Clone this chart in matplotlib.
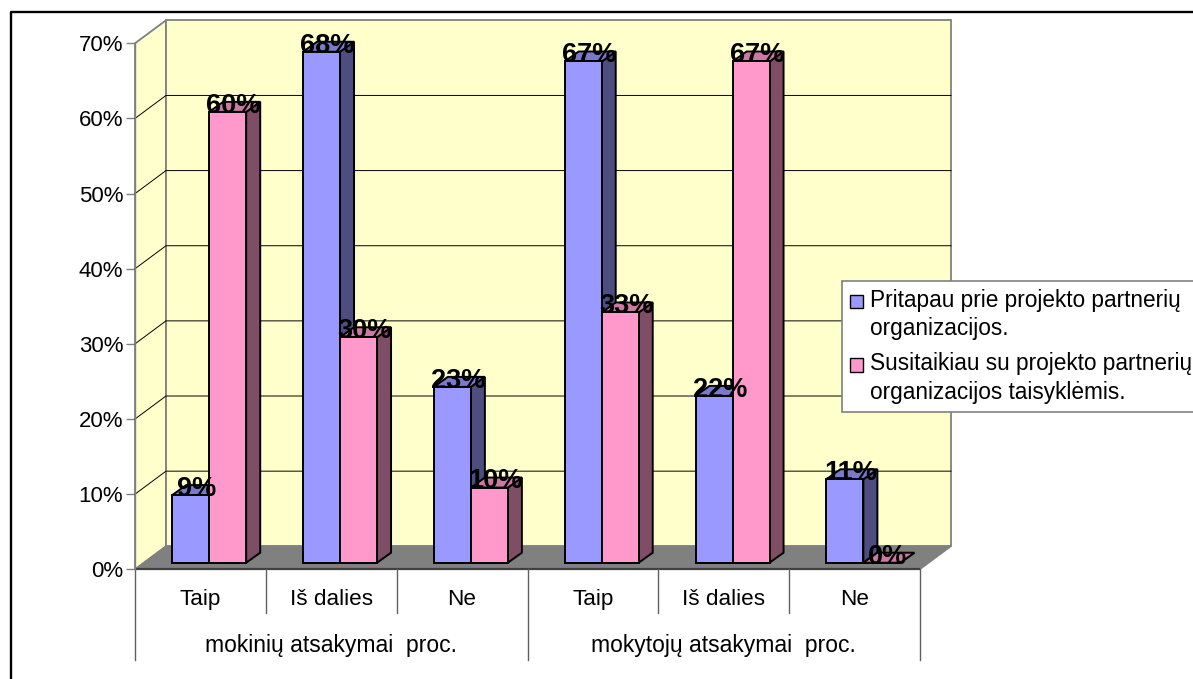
import matplotlib
matplotlib.use('Agg')
import matplotlib.pyplot as plt
from matplotlib.patches import Polygon, Patch

plt.rcParams['font.family'] = ['Liberation Sans', 'DejaVu Sans']

# Values (labels show them rounded)
categories = ['Taip', 'Iš dalies', 'Ne', 'Taip', 'Iš dalies', 'Ne']
groups = ['mokinių atsakymai  proc.', 'mokytojų atsakymai  proc.']
series_names = ['Pritapau prie projekto partnerių\norganizacijos.',
                'Susitaikiau su projekto partnerių\norganizacijos taisyklėmis.']
pritapau = [9, 68, 23.4, 66.7, 22.2, 11.1]
susitaikiau = [60, 30, 10, 33.3, 66.7, 0]
y_ticks = [0, 10, 20, 30, 40, 50, 60, 70]

W, H = 1193, 679
fig = plt.figure(figsize=(W / 100, H / 100), dpi=100)
left, right, top, floor = 135, 920, 43.3, 569.3
ax = fig.add_axes([left / W, (H - floor) / H, (right - left) / W, (floor - top) / H])
ax.set_xlim(0, 6)
ax.set_ylim(0, 70)
for s in ax.spines.values():
    s.set_visible(False)
ax.patch.set_visible(False)

# pixel sizes in data units
px = 6 / (right - left)
py = 70 / (floor - top)
wall_dx, wall_dy = 31 * px, 23 * py
bar_dx, bar_dy = 8.8 * px, 6.6 * py
depth_dx, depth_dy = 14 * px, 10 * py
bar_w = 37 * px


def poly(pts, fc, ec, lw=1.0, z=1):
    ax.add_patch(Polygon(pts, closed=True, facecolor=fc, edgecolor=ec, linewidth=lw,
                         zorder=z, clip_on=False, joinstyle='miter'))


# walls and floor
poly([(0, 0), (0, 70), (wall_dx, 70 + wall_dy), (wall_dx, wall_dy)], '#FFFFCC', '#808080', 1.3)
poly([(wall_dx, wall_dy), (wall_dx, 70 + wall_dy), (6 + wall_dx, 70 + wall_dy), (6 + wall_dx, wall_dy)],
     '#FFFFCC', '#808080', 1.3)
poly([(0, 0), (wall_dx, wall_dy), (6 + wall_dx, wall_dy), (6, 0)], '#808080', '#808080', 1.0)
ax.plot([0, 6], [0, 0], color='#404040', lw=1.6, zorder=2, clip_on=False, solid_capstyle='butt')

# gridlines
for t in y_ticks[1:-1]:
    ax.plot([0, wall_dx, 6 + wall_dx], [t, t + wall_dy, t + wall_dy], color='black', lw=0.7,
            zorder=2, clip_on=False)


def bar3d(x0, val, front, side, roof, z):
    x1 = x0 + bar_w
    y0 = bar_dy
    y1 = bar_dy + val
    poly([(x1, y0), (x1 + depth_dx, y0 + depth_dy), (x1 + depth_dx, y1 + depth_dy), (x1, y1)], side, 'black', 1.4, z)
    poly([(x0, y1), (x0 + depth_dx, y1 + depth_dy), (x1 + depth_dx, y1 + depth_dy), (x1, y1)], roof, 'black', 1.4, z)
    poly([(x0, y0), (x0, y1), (x1, y1), (x1, y0)], front, 'black', 1.4, z)
    ax.annotate(f'{val:.0f}%', xy=((x0 + x1 + depth_dx) / 2, y1), xytext=(-0.8, 4.4), textcoords='offset points',
                ha='center', va='center', fontsize=19.5, fontweight='bold', color='black', zorder=20,
                annotation_clip=False)


# bars, left to right
for i in range(6):
    c = i + 0.5 + bar_dx
    bar3d(c - bar_w, pritapau[i], '#9999FF', '#4D4D80', '#7A7ACC', 5 + i)
    bar3d(c, susitaikiau[i], '#FF99CC', '#804D66', '#CC7AA3', 5 + i)

# y axis
ax.set_yticks(y_ticks)
ax.set_yticklabels([f'{t}%' for t in y_ticks], fontsize=16, color='black')
ax.tick_params(axis='y', length=6.5, width=1.0, color='#808080', pad=2)

# multi level x axis
ax.set_xticks([i + 0.5 for i in range(6)])
ax.set_xticklabels(categories, fontsize=16.2, color='black')
ax.tick_params(axis='x', length=0, pad=14)
for i in range(7):
    low = -91 if i % 3 == 0 else -44
    ax.plot([i, i], [0, low * py], color='#606060', lw=1.0, clip_on=False, zorder=2)
ax.plot([0, 0], [0, 70], color='#808080', lw=1.0, clip_on=False, zorder=2)
for g, name in enumerate(groups):
    ax.annotate(name, xy=(1.5 + 3 * g, 0), xytext=(0, -55), textcoords='offset points',
                ha='center', va='center', fontsize=16.5, annotation_clip=False)

# outer border, cut off at the right and bottom of the image
fig.add_artist(plt.Line2D([10.5 / W, 10.5 / W, 1], [0, (H - 11.5) / H, (H - 11.5) / H], color='black', lw=1.7))

# legend runs past the right edge
handles = [Patch(facecolor='#9999FF', edgecolor='black', linewidth=1.0),
           Patch(facecolor='#FF99CC', edgecolor='black', linewidth=1.0)]
leg = fig.legend(handles, series_names, loc='upper left', bbox_to_anchor=(842 / W, (H - 281) / H),
                 fontsize=16.3, frameon=True, fancybox=False, framealpha=1, edgecolor='#808080',
                 handlelength=0.56, handleheight=0.56, handletextpad=0.32, labelspacing=0.53,
                 borderpad=0.36, borderaxespad=0, labelcolor='black')
leg.set_zorder(50)
leg.get_frame().set_linewidth(1.2)
for t in leg.get_texts():
    t.set_linespacing(1.29)
# swatches sit on the first line of each entry
for h in leg.legend_handles:
    h.set_y(h.get_y() + 10.3)

fig.savefig('out.png', dpi=100)
